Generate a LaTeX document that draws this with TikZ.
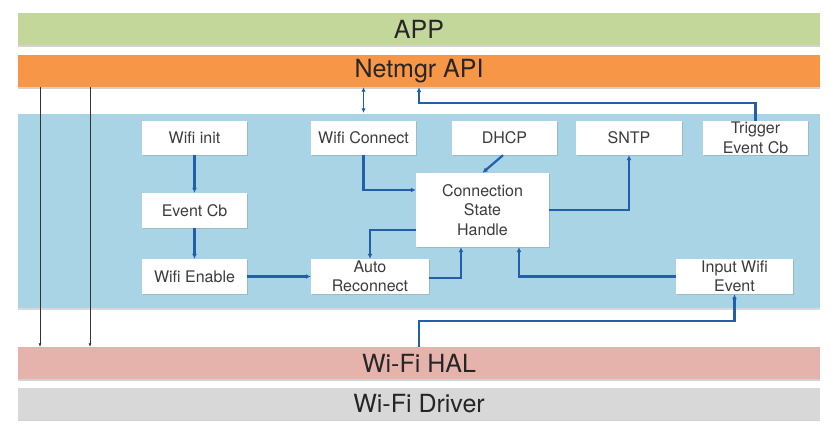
\documentclass[tikz,border=0pt]{standalone}
\usepackage{fontspec}
\setmainfont{TeX Gyre Heros}
\usetikzlibrary{arrows.meta,shadows}
\definecolor{appgreen}{RGB}{196,215,155}
\definecolor{netorange}{RGB}{247,150,70}
\definecolor{panelblue}{RGB}{168,212,229}
\definecolor{halpink}{RGB}{229,178,172}
\definecolor{drvgray}{RGB}{216,216,216}
\definecolor{linkblue}{RGB}{35,95,168}
\definecolor{boxtext}{RGB}{60,60,60}
\tikzset{
  bar/.style={draw=none, minimum width=802pt, minimum height=32pt, inner sep=0pt,
    font=\fontsize{25}{29}\selectfont, text=black!85,
    drop shadow={shadow xshift=0pt, shadow yshift=-1.5pt, opacity=0.35}},
  fbox/.style={fill=white, draw=none, minimum height=34pt, inner sep=0pt, align=center,
    font=\fontsize{16}{19.5}\selectfont, text=boxtext,
    drop shadow={shadow xshift=0.8pt, shadow yshift=-1pt, opacity=0.3}},
  link/.style={draw=linkblue, line width=2.2pt, -{Latex[length=5pt,width=5pt]}},
  thinlink/.style={draw=black!80, line width=0.9pt, -{Latex[length=3.5pt,width=3pt]}}
}
\begin{document}
\begin{tikzpicture}[x=1pt,y=-1pt]
\useasboundingbox[fill=white] (0,0) rectangle (831,432);
% layers
\node[bar, fill=appgreen] (app) at (419,29) {APP};
\node[bar, fill=netorange] (netmgr) at (419,71) {Netmgr API};
\node[fill=panelblue, draw=none, minimum width=802pt, minimum height=194pt, inner sep=0pt,
  drop shadow={shadow xshift=0pt, shadow yshift=-1.5pt, opacity=0.3}] (panel) at (419,211) {};
\node[bar, fill=halpink] (hal) at (419,363) {Wi-Fi HAL};
\node[bar, fill=drvgray] (driver) at (419,403.5) {Wi-Fi Driver};
% boxes
\node[fbox, minimum width=105pt] (winit) at (194.5,138) {Wifi init};
\node[fbox, minimum width=105pt, minimum height=35pt] (evcb) at (194.5,210.5) {Event Cb};
\node[fbox, minimum width=105pt, minimum height=35pt] (wen) at (194.5,276.5) {Wifi Enable};
\node[fbox, minimum width=105pt] (wcon) at (363.5,138) {Wifi Connect};
\node[fbox, minimum width=118pt, minimum height=35pt] (autor) at (370,276.5) {Auto\\Reconnect};
\node[fbox, minimum width=133pt, minimum height=74pt] (csh) at (482.5,210) {Connection\\State\\Handle};
\node[fbox, minimum width=105pt] (dhcp) at (504.5,138) {DHCP};
\node[fbox, minimum width=106pt] (sntp) at (629,138) {SNTP};
\node[fbox, minimum width=105pt] (trig) at (755.5,138) {Trigger\\Event Cb};
\node[fbox, minimum width=117pt, minimum height=35pt] (input) at (734.5,276.5) {Input Wifi\\Event};
% black side lines
\draw[thinlink] ([xshift=-379pt]netmgr.south) -- ([xshift=-379pt]hal.north);
\draw[thinlink] ([xshift=-329pt]netmgr.south) -- ([xshift=-329pt]hal.north);
% blue connectors
\draw[link] (winit.south) -- (evcb.north);
\draw[link] (evcb.south) -- (wen.north);
\draw[link] (wen.east) -- (autor.west);
\draw[link] (wcon.south) |- ([yshift=20pt]csh.west);
\draw[link] ([yshift=-20pt]csh.west) -| (autor.north);
\draw[link] ([xshift=-1.5pt]dhcp.south) -- (csh.north);
\draw[link] (csh.east) -| (sntp.south);
\draw[link] ([yshift=-1.5pt]autor.east) -| ([xshift=-21.5pt]csh.south);
\draw[link] (input.west) -| ([xshift=36.5pt]csh.south);
\draw[link] (trig.north) |- ([yshift=-16pt]netmgr.south) -- (netmgr.south);
\draw[link] (hal.north) |- ([yshift=-27pt]input.south) -- (input.south);
\draw[draw=linkblue, line width=1.5pt, {Latex[length=4.5pt,width=4.5pt]}-{Latex[length=4.5pt,width=4.5pt]}]
  (netmgr.south -| wcon.north) -- ([yshift=1pt]panel.north -| wcon.north);
\end{tikzpicture}
\end{document}
